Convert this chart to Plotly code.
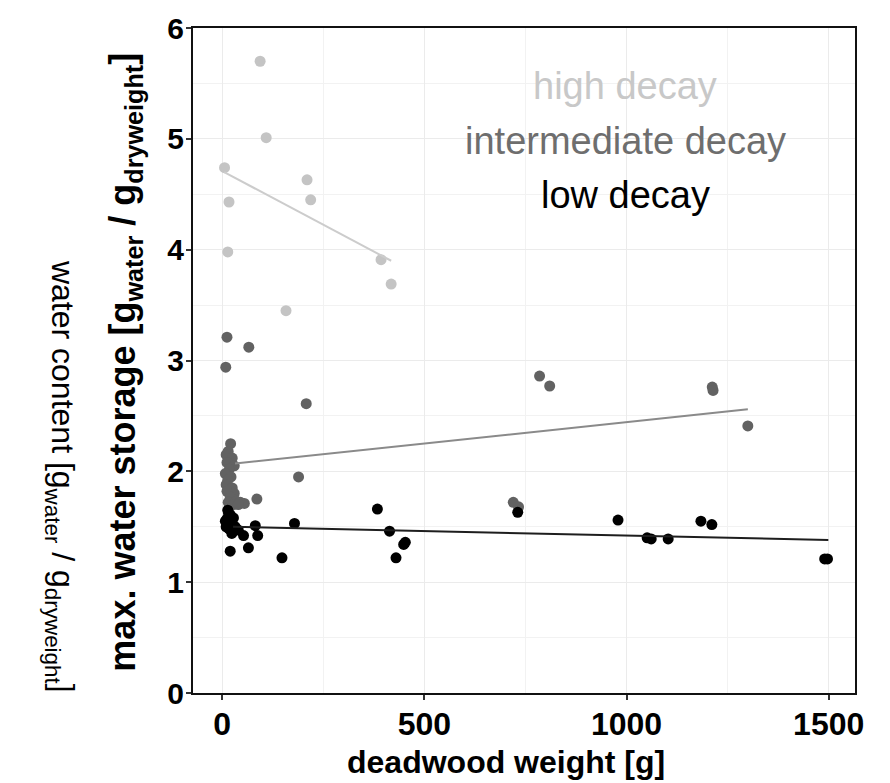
import plotly.graph_objects as go

# ---- data ----
high_x = [94, 109, 6, 210, 219, 17, 14, 393, 418, 158]
high_y = [5.70, 5.01, 4.74, 4.63, 4.45, 4.43, 3.98, 3.91, 3.69, 3.45]

inter_x = [12, 66, 9, 208, 189, 86, 21, 15, 10, 25, 12, 30, 18, 8, 22, 14, 10, 25,
           12, 30, 20, 35, 15, 45, 55, 28, 40, 785, 810, 1212, 1214, 1300, 720, 733]
inter_y = [3.21, 3.12, 2.94, 2.61, 1.95, 1.75, 2.25, 2.18, 2.15, 2.12, 2.08, 2.05, 2.02,
           1.98, 1.95, 1.92, 1.88, 1.85, 1.82, 1.80, 1.77, 1.73, 1.72, 1.72, 1.71, 1.70,
           1.70, 2.86, 2.77, 2.76, 2.73, 2.41, 1.72, 1.68]

low_x = [16, 20, 12, 25, 10, 17, 32, 24, 53, 82, 88, 65, 20, 148, 179, 384, 414, 453,
         449, 430, 731, 979, 1051, 1061, 1103, 1184, 1211, 1497, 1490, 8, 14, 28, 40]
low_y = [1.62, 1.61, 1.57, 1.53, 1.50, 1.48, 1.50, 1.44, 1.42, 1.51, 1.42, 1.31, 1.28,
         1.22, 1.53, 1.66, 1.46, 1.36, 1.34, 1.22, 1.63, 1.56, 1.40, 1.39, 1.39, 1.55,
         1.52, 1.21, 1.21, 1.55, 1.65, 1.58, 1.47]

high_fit_x = [5, 418]
high_fit_y = [4.70, 3.90]
inter_fit_x = [32, 1300]
inter_fit_y = [2.07, 2.56]
low_fit_x = [27, 1499]
low_fit_y = [1.50, 1.38]

series_names = ["high decay", "intermediate decay", "low decay"]
x_ticks = [0, 500, 1000, 1500]
y_ticks = [0, 1, 2, 3, 4, 5, 6]

ARIAL = "Liberation Sans, Arial, sans-serif"

fig = go.Figure()

groups = [
    (high_x, high_y, high_fit_x, high_fit_y, "#c4c4c4", "#cccccc"),
    (inter_x, inter_y, inter_fit_x, inter_fit_y, "#626262", "#8a8a8a"),
    (low_x, low_y, low_fit_x, low_fit_y, "#000000", "#1e1e1e"),
]
for name, (gx, gy, fx, fy, pc, lc) in zip(series_names, groups):
    fig.add_trace(go.Scatter(x=gx, y=gy, mode="markers", name=name,
                             marker=dict(color=pc, size=11, line=dict(width=0)),
                             showlegend=False))
    fig.add_trace(go.Scatter(x=fx, y=fy, mode="lines", name=name + " fit",
                             line=dict(color=lc, width=2), showlegend=False))

grid = "#ebebeb"
fig.update_xaxes(range=[-72, 1565], tickvals=x_ticks, ticktext=[str(v) for v in x_ticks],
                 showgrid=True, gridcolor=grid, gridwidth=1.3,
                 minor=dict(dtick=250, showgrid=True, gridcolor="#f2f2f2", gridwidth=1),
                 zeroline=False, showline=True, mirror=True, linecolor="#111", linewidth=2,
                 ticks="outside", ticklen=5, tickcolor="#333", tickwidth=1.5,
                 ticklabelstandoff=-3, automargin=False,
                 tickfont=dict(family=ARIAL, size=32, color="#000", weight="bold"))
fig.update_yaxes(range=[0, 6], tickvals=y_ticks, ticktext=[str(v) for v in y_ticks],
                 showgrid=True, gridcolor=grid, gridwidth=1.3,
                 minor=dict(dtick=0.5, showgrid=True, gridcolor="#f2f2f2", gridwidth=1),
                 zeroline=False, showline=True, mirror=True, linecolor="#111", linewidth=2,
                 ticks="outside", ticklen=5, tickcolor="#333", tickwidth=1.5,
                 ticklabelstandoff=-4, automargin=False,
                 tickfont=dict(family=ARIAL, size=30, color="#000", weight="bold"))

annotations = [
    dict(text="<b>max. water storage [g<sub>water</sub> / g<sub>dryweight</sub>]</b>",
         xref="paper", yref="paper", x=-0.103, y=0.498, textangle=-90,
         xanchor="center", yanchor="middle", showarrow=False,
         font=dict(family=ARIAL, size=36, color="#000")),
    dict(text="water content [g<sub>water</sub> / g<sub>dryweight</sub>]",
         xref="paper", yref="paper", x=-0.201, y=0.325, textangle=90,
         xanchor="center", yanchor="middle", showarrow=False,
         font=dict(family=ARIAL, size=32, color="#000")),
    dict(text="<b>deadwood weight [g]</b>",
         xref="paper", yref="paper", x=0.473, y=-0.104,
         xanchor="center", yanchor="middle", showarrow=False,
         font=dict(family=ARIAL, size=32, color="#000")),
]
label_colors = ["#c8c8c8", "#6e6e6e", "#000000"]
label_y = [0.913, 0.830, 0.749]
for name, c, ly in zip(series_names, label_colors, label_y):
    annotations.append(dict(text=name, xref="paper", yref="paper", x=0.6526, y=ly,
                            xanchor="center", yanchor="middle", showarrow=False,
                            font=dict(family=ARIAL, size=38, color=c)))

# page body adds an 8px offset, so the figure is 8px smaller and margins shifted
fig.update_layout(width=882, height=775, margin=dict(l=185, r=35, t=20, b=90),
                  paper_bgcolor="white", plot_bgcolor="white",
                  annotations=annotations, showlegend=False)

fig.write_html("out.html")
